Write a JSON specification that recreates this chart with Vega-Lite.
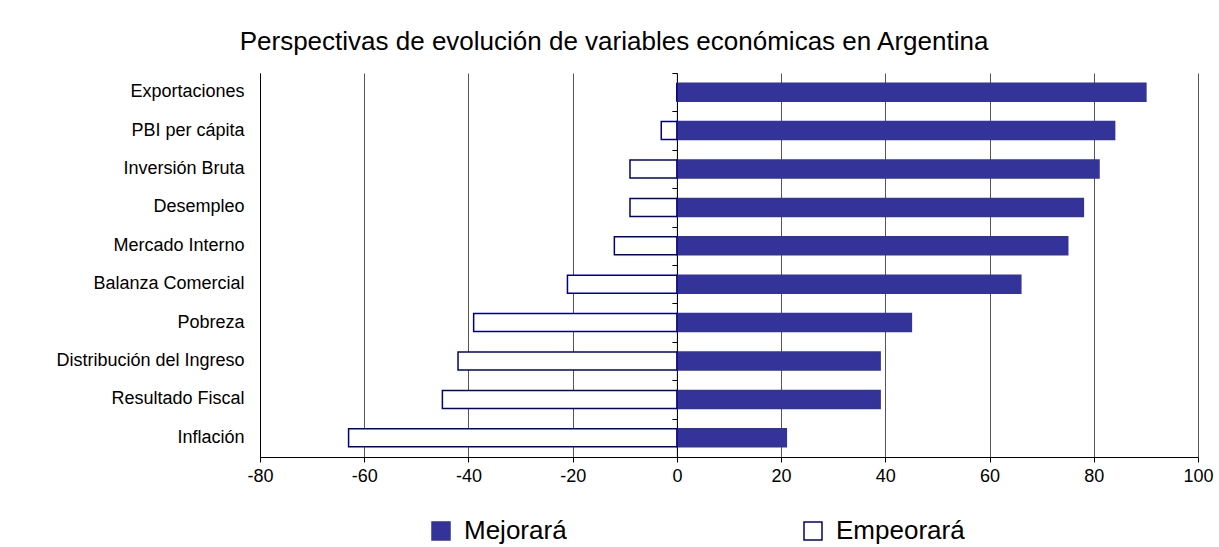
{
  "$schema": "https://vega.github.io/schema/vega-lite/v6.json",
  "autosize": {"type": "none"},
  "width": 938,
  "height": 384,
  "padding": {"left": 260, "top": 73, "right": 21, "bottom": 90},
  "background": "white",
  "title": {
    "text": "Perspectivas de evolución de variables económicas en Argentina",
    "font": "Liberation Sans",
    "fontSize": 26,
    "fontWeight": "normal",
    "color": "black",
    "anchor": "middle",
    "dx": -115,
    "offset": 18
  },
  "data": {
    "values": [
      {"categoria": "Exportaciones", "serie": "Mejorará", "valor": 90},
      {"categoria": "Exportaciones", "serie": "Empeorará", "valor": 0},
      {"categoria": "PBI per cápita", "serie": "Mejorará", "valor": 84},
      {"categoria": "PBI per cápita", "serie": "Empeorará", "valor": -3},
      {"categoria": "Inversión Bruta", "serie": "Mejorará", "valor": 81},
      {"categoria": "Inversión Bruta", "serie": "Empeorará", "valor": -9},
      {"categoria": "Desempleo", "serie": "Mejorará", "valor": 78},
      {"categoria": "Desempleo", "serie": "Empeorará", "valor": -9},
      {"categoria": "Mercado Interno", "serie": "Mejorará", "valor": 75},
      {"categoria": "Mercado Interno", "serie": "Empeorará", "valor": -12},
      {"categoria": "Balanza Comercial", "serie": "Mejorará", "valor": 66},
      {"categoria": "Balanza Comercial", "serie": "Empeorará", "valor": -21},
      {"categoria": "Pobreza", "serie": "Mejorará", "valor": 45},
      {"categoria": "Pobreza", "serie": "Empeorará", "valor": -39},
      {"categoria": "Distribución del Ingreso", "serie": "Mejorará", "valor": 39},
      {"categoria": "Distribución del Ingreso", "serie": "Empeorará", "valor": -42},
      {"categoria": "Resultado Fiscal", "serie": "Mejorará", "valor": 39},
      {"categoria": "Resultado Fiscal", "serie": "Empeorará", "valor": -45},
      {"categoria": "Inflación", "serie": "Mejorará", "valor": 21},
      {"categoria": "Inflación", "serie": "Empeorará", "valor": -63}
    ]
  },
  "layer": [
    {
      "mark": {"type": "bar", "height": {"band": 0.47}, "strokeWidth": 1.5},
      "encoding": {
        "y": {
          "field": "categoria",
          "type": "nominal",
          "sort": ["Exportaciones", "PBI per cápita", "Inversión Bruta", "Desempleo", "Mercado Interno", "Balanza Comercial", "Pobreza", "Distribución del Ingreso", "Resultado Fiscal", "Inflación"],
          "scale": {"paddingInner": 0, "paddingOuter": 0},
          "axis": {
            "title": null,
            "orient": "left",
            "domain": true,
            "domainColor": "black",
            "domainWidth": 1,
            "ticks": false,
            "grid": false,
            "labelFont": "Liberation Sans",
            "labelFontSize": 18,
            "labelColor": "black",
            "labelPadding": 16,
            "labelLimit": 400
          }
        },
        "x": {
          "field": "valor",
          "type": "quantitative",
          "stack": null,
          "scale": {"domain": [-80, 100], "nice": false, "zero": false},
          "axis": {
            "title": null,
            "values": [-80, -60, -40, -20, 0, 20, 40, 60, 80, 100],
            "labelExpr": "toString(datum.value)",
            "grid": true,
            "gridColor": "#555555",
            "gridWidth": 1,
            "domain": true,
            "domainColor": "black",
            "ticks": true,
            "tickColor": "black",
            "tickSize": 5,
            "labelFont": "Liberation Sans",
            "labelFontSize": 18,
            "labelColor": "black",
            "labelPadding": 5,
            "labelFlush": false
          }
        },
        "fill": {
          "field": "serie",
          "type": "nominal",
          "scale": {"domain": ["Mejorará", "Empeorará"], "range": ["#333399", "#ffffff"]},
          "legend": {
            "title": null,
            "orient": "none",
            "direction": "horizontal",
            "legendX": 168,
            "legendY": 445,
            "padding": 0,
            "symbolType": "square",
            "symbolSize": 324,
            "symbolStrokeWidth": 1.5,
            "labelFont": "Liberation Sans",
            "labelFontSize": 26,
            "labelColor": "black",
            "labelOffset": 10,
            "columnPadding": 233
          }
        },
        "stroke": {
          "field": "serie",
          "type": "nominal",
          "scale": {"domain": ["Mejorará", "Empeorará"], "range": ["#333399", "#000080"]},
          "legend": null
        }
      }
    },
    {
      "mark": {"type": "bar", "opacity": 0},
      "encoding": {
        "y": {
          "field": "categoria",
          "type": "nominal",
          "sort": ["Exportaciones", "PBI per cápita", "Inversión Bruta", "Desempleo", "Mercado Interno", "Balanza Comercial", "Pobreza", "Distribución del Ingreso", "Resultado Fiscal", "Inflación"],
          "axis": {
            "title": null,
            "orient": "left",
            "offset": -416.9,
            "labels": false,
            "domain": true,
            "domainColor": "black",
            "domainWidth": 1,
            "ticks": true,
            "tickBand": "extent",
            "tickColor": "black",
            "tickSize": 5,
            "grid": false
          }
        },
        "x": {"field": "valor", "type": "quantitative", "stack": null}
      }
    }
  ],
  "resolve": {"axis": {"y": "independent"}},
  "config": {"view": {"stroke": null}}
}
